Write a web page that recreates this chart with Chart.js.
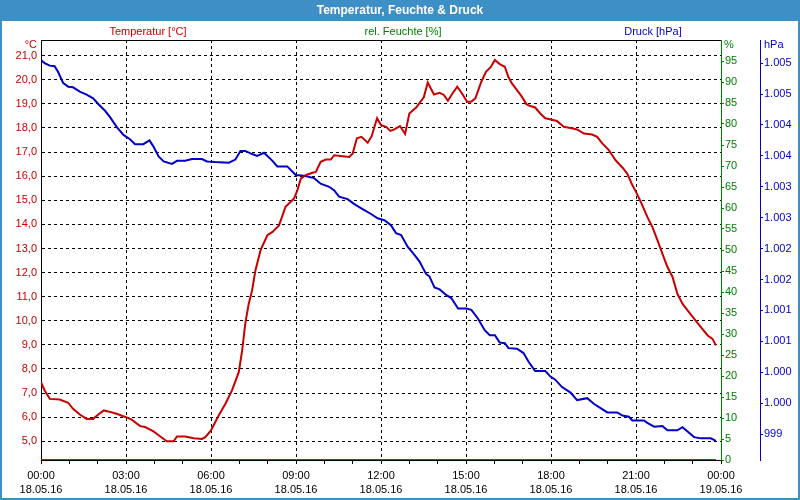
<!DOCTYPE html>
<html><head><meta charset="utf-8">
<script src="https://cdn.jsdelivr.net/npm/chart.js@4.4.0/dist/chart.umd.min.js"></script>
<style>html,body{margin:0;padding:0;background:#fff;}canvas{display:block}</style>
</head><body>
<canvas id="c" width="800" height="500"></canvas>
<script>
// ---- data (hours since 18.05.16 00:00) ----
const tempHours = [0,0.13,0.31,0.66,0.96,1.13,1.37,1.61,1.84,2.02,2.22,2.37,2.67,3.0,3.2,3.5,3.67,3.97,4.2,4.44,4.68,4.8,5.09,5.39,5.68,5.8,6.0,6.27,6.51,6.74,6.98,7.1,7.21,7.33,7.45,7.57,7.75,7.99,8.17,8.4,8.63,8.93,9.05,9.17,9.34,9.58,9.7,9.87,10.05,10.23,10.35,10.64,10.88,11.0,11.15,11.31,11.53,11.67,11.86,12.0,12.18,12.33,12.47,12.67,12.85,13.0,13.24,13.51,13.65,13.87,14.07,14.22,14.36,14.54,14.69,14.86,15.04,15.18,15.33,15.54,15.71,15.87,16.02,16.19,16.37,16.49,16.62,16.8,16.97,17.13,17.27,17.44,17.62,17.8,18.0,18.21,18.45,18.69,18.92,19.16,19.45,19.63,19.81,20.04,20.28,20.52,20.69,20.87,21.0,21.17,21.4,21.58,21.76,21.93,22.11,22.29,22.46,22.64,22.82,23.05,23.29,23.53,23.7,23.82];
const temperature = [7.45,7.11,6.76,6.73,6.6,6.35,6.11,5.93,5.93,6.11,6.28,6.24,6.14,6.0,5.9,5.63,5.59,5.41,5.21,5.0,5.0,5.2,5.2,5.13,5.1,5.17,5.45,6.07,6.56,7.11,7.87,8.77,9.88,10.7,11.26,12.1,12.93,13.55,13.69,13.96,14.73,15.07,15.42,15.9,16.04,16.14,16.18,16.6,16.69,16.69,16.87,16.83,16.8,16.94,17.57,17.63,17.39,17.66,18.4,18.12,18.05,17.88,17.94,18.08,17.75,18.6,18.85,19.27,19.89,19.39,19.46,19.37,19.13,19.46,19.71,19.43,19.09,19.09,19.23,19.92,20.34,20.52,20.82,20.65,20.54,20.13,19.85,19.57,19.3,18.99,18.91,18.85,18.6,18.4,18.35,18.29,18.05,18.0,17.94,17.77,17.73,17.63,17.36,17.08,16.66,16.36,16.11,15.63,15.35,14.93,14.31,13.89,13.34,12.79,12.23,11.82,11.12,10.71,10.43,10.09,9.74,9.39,9.25,8.98];

const pressHours = [0,0.13,0.31,0.48,0.6,0.78,0.96,1.13,1.37,1.61,1.84,2.02,2.26,2.43,2.67,2.91,3.14,3.32,3.61,3.83,3.97,4.15,4.33,4.62,4.8,5.09,5.33,5.68,5.86,6.15,6.63,6.86,7.04,7.21,7.45,7.63,7.87,8.17,8.34,8.69,8.99,9.28,9.64,9.87,10.17,10.35,10.52,10.82,11.06,11.35,11.65,11.88,12.12,12.35,12.53,12.71,12.94,13.18,13.36,13.59,13.71,13.89,14.07,14.3,14.48,14.72,15.01,15.19,15.42,15.66,15.84,16.02,16.19,16.37,16.5,16.8,17.03,17.21,17.44,17.8,17.98,18.15,18.39,18.69,18.92,19.28,19.51,19.75,19.99,20.34,20.52,20.75,20.87,21.28,21.4,21.64,21.93,22.11,22.46,22.64,22.82,23.05,23.29,23.64,23.82];
const pressure = [1005.05,1005.0,1004.96,1004.95,1004.86,1004.68,1004.62,1004.61,1004.54,1004.49,1004.43,1004.34,1004.23,1004.13,1003.97,1003.84,1003.77,1003.69,1003.69,1003.75,1003.65,1003.49,1003.41,1003.37,1003.42,1003.42,1003.45,1003.45,1003.41,1003.4,1003.39,1003.44,1003.58,1003.58,1003.53,1003.5,1003.55,1003.42,1003.33,1003.33,1003.19,1003.18,1003.14,1003.05,1003.0,1002.94,1002.84,1002.8,1002.72,1002.64,1002.56,1002.49,1002.46,1002.38,1002.25,1002.22,1002.03,1001.9,1001.79,1001.59,1001.55,1001.37,1001.34,1001.25,1001.2,1001.03,1001.03,1001.01,1000.87,1000.68,1000.6,1000.6,1000.48,1000.47,1000.39,1000.38,1000.31,1000.17,1000.02,1000.02,999.93,999.88,999.76,999.67,999.55,999.58,999.49,999.42,999.35,999.35,999.3,999.28,999.22,999.22,999.18,999.12,999.13,999.06,999.06,999.11,999.04,998.95,998.93,998.93,998.89];

const humHours = [0, 23.82];
const humidity = [0, 0];

// ---- ticks ----
const tempTicks = [5,6,7,8,9,10,11,12,13,14,15,16,17,18,19,20,21];
const humTicks = [0,5,10,15,20,25,30,35,40,45,50,55,60,65,70,75,80,85,90,95];
const pressTicks = [999,999.5,1000,1000.5,1001,1001.5,1002,1002.5,1003,1003.5,1004,1004.5,1005];
const pressTickLabels = ['999','1.000','1.000','1.001','1.001','1.002','1.002','1.003','1.003','1.004','1.004','1.005','1.005'];
const xTickHours = [0,1,2,3,4,5,6,7,8,9,10,11,12,13,14,15,16,17,18,19,20,21,22,23,24];
const xLabelHours = [0,3,6,9,12,15,18,21,24];
const xLabelTimes = ['00:00','03:00','06:00','09:00','12:00','15:00','18:00','21:00','00:00'];
const xLabelDates = ['18.05.16','18.05.16','18.05.16','18.05.16','18.05.16','18.05.16','18.05.16','18.05.16','19.05.16'];

const RED = '#c80000', GREEN = '#008000', BLUE = '#0000c8', FRAME = '#3d8fc6';
const FONT = {family: '"Liberation Sans", Arial, sans-serif', size: 11};

const toXY = (xs, ys) => xs.map((x, i) => ({x: x, y: ys[i]}));

const decor = {
  id: 'decor',
  beforeDraw(chart) {
    const ctx = chart.ctx;
    ctx.save();
    ctx.fillStyle = '#ffffff';
    ctx.fillRect(0, 0, 800, 500);
    ctx.fillStyle = FRAME;
    ctx.fillRect(0, 0, 800, 21);
    ctx.fillStyle = '#ffffff';
    ctx.font = 'bold 12px "Liberation Sans", Arial, sans-serif';
    ctx.textAlign = 'center'; ctx.textBaseline = 'middle';
    ctx.fillText('Temperatur, Feuchte & Druck', 400, 10.5);
    ctx.font = '11px "Liberation Sans", Arial, sans-serif';
    ctx.fillStyle = RED; ctx.fillText('Temperatur [°C]', 148, 32);
    ctx.fillStyle = GREEN; ctx.fillText('rel. Feuchte [%]', 403, 32);
    ctx.fillStyle = BLUE; ctx.fillText('Druck [hPa]', 653, 32);
    ctx.textAlign = 'right'; ctx.fillStyle = RED; ctx.fillText('°C', 37, 45);
    ctx.textAlign = 'left'; ctx.fillStyle = GREEN; ctx.fillText('%', 724, 45);
    ctx.fillStyle = BLUE; ctx.fillText('hPa', 764, 45);
    ctx.restore();
  },
  afterDraw(chart) {
    const ctx = chart.ctx, a = chart.chartArea;
    ctx.save();
    ctx.strokeStyle = '#000'; ctx.lineWidth = 1;
    ctx.beginPath(); ctx.moveTo(a.left, a.top + 0.5); ctx.lineTo(a.right, a.top + 0.5); ctx.stroke();
    ctx.strokeStyle = FRAME; ctx.lineWidth = 2;
    ctx.strokeRect(1, 1, 798, 498);
    ctx.restore();
  }
};

new Chart(document.getElementById('c'), {
  type: 'line',
  data: {
    datasets: [
      {label: 'rel. Feuchte [%]', data: toXY(humHours, humidity), yAxisID: 'yHum', borderColor: GREEN, borderWidth: 2, pointRadius: 0, order: 3},
      {label: 'Druck [hPa]', data: toXY(pressHours, pressure), yAxisID: 'yPress', borderColor: BLUE, borderWidth: 2, pointRadius: 0, order: 2},
      {label: 'Temperatur [°C]', data: toXY(tempHours, temperature), yAxisID: 'yTemp', borderColor: RED, borderWidth: 2, pointRadius: 0, order: 1}
    ]
  },
  options: {
    responsive: false, animation: false, devicePixelRatio: 1,
    layout: {padding: {top: 40, left: 0, right: 0, bottom: 0}},
    plugins: {legend: {display: false}, tooltip: {enabled: false}, title: {display: false}},
    scales: {
      x: {
        type: 'linear', position: 'bottom', min: 0, max: 24,
        afterBuildTicks: s => { s.ticks = xTickHours.map(v => ({value: v})); },
        afterFit: s => { s.height = 40; },
        ticks: {autoSkip: false, maxRotation: 0, padding: 4, color: '#000', font: {...FONT, lineHeight: 1.36},
          callback: v => { const i = xLabelHours.indexOf(v); return i >= 0 ? [xLabelTimes[i], xLabelDates[i]] : ''; }},
        grid: {color: c => (c.tick && c.tick.value % 3 === 0 && c.tick.value > 0 && c.tick.value < 24) ? '#000' : 'rgba(0,0,0,0)',
          lineWidth: 1, tickColor: '#000', tickLength: 4, tickBorderDash: []},
        border: {color: '#000', width: 1, dash: [3, 3]}
      },
      yTemp: {
        type: 'linear', position: 'left', min: 4.224, max: 21.65,
        afterBuildTicks: s => { s.ticks = tempTicks.map(v => ({value: v})); },
        afterFit: s => { s.width = 41; },
        ticks: {color: RED, font: FONT, padding: 4, callback: v => v.toFixed(1).replace('.', ',')},
        grid: {color: '#000', lineWidth: 1, drawTicks: false},
        border: {color: '#000', width: 1, dash: [3, 3]}
      },
      yHum: {
        type: 'linear', position: 'right', min: 0, max: 100,
        afterBuildTicks: s => { s.ticks = humTicks.map(v => ({value: v})); },
        afterFit: s => { s.width = 39; },
        ticks: {color: GREEN, font: FONT, padding: 1, callback: v => String(v)},
        grid: {drawOnChartArea: false, color: GREEN, tickColor: GREEN, tickLength: 3, tickBorderDash: []},
        border: {color: GREEN, width: 1}
      },
      yPress: {
        type: 'linear', position: 'right', min: 998.58, max: 1005.375,
        afterBuildTicks: s => { s.ticks = pressTicks.map(v => ({value: v})); },
        afterFit: s => { s.width = 40; },
        ticks: {color: BLUE, font: FONT, padding: 1, callback: (v, i) => pressTickLabels[i]},
        grid: {drawOnChartArea: false, color: BLUE, tickColor: BLUE, tickLength: 3, tickBorderDash: []},
        border: {color: BLUE, width: 1}
      }
    }
  },
  plugins: [decor]
});
</script>
</body></html>
